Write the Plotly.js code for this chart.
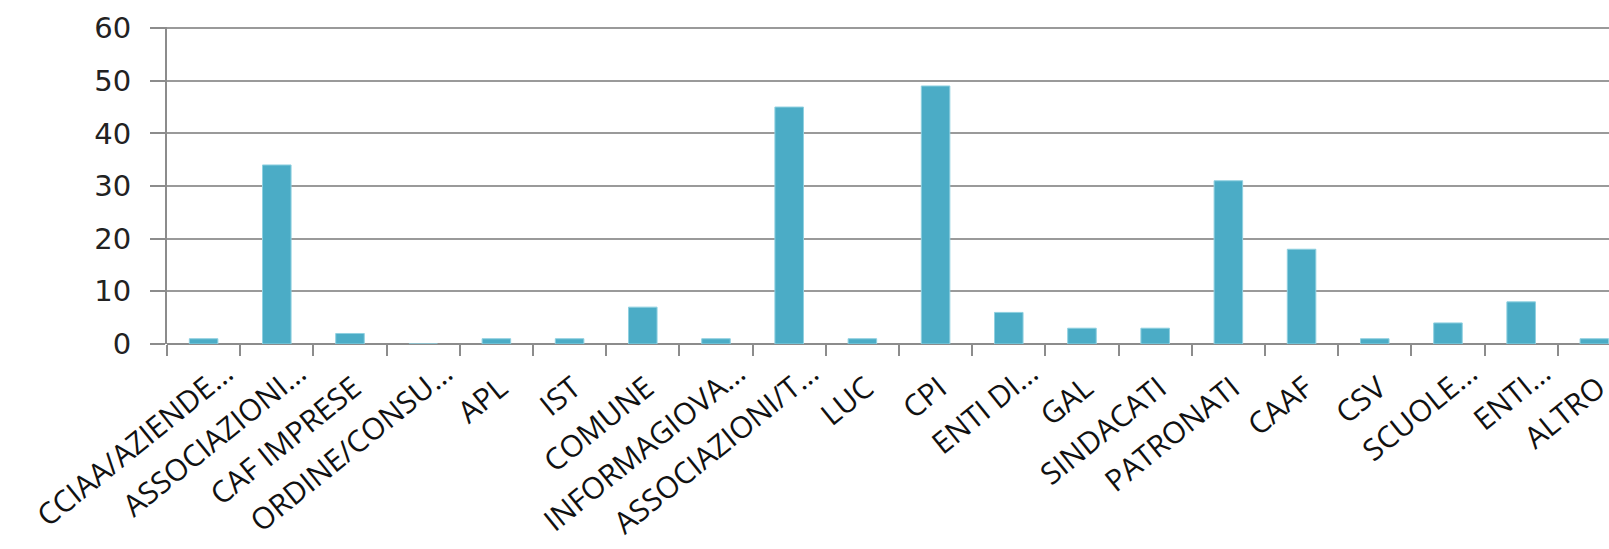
<!DOCTYPE html>
<html>
<head>
<meta charset="utf-8">
<script src="https://cdn.plot.ly/plotly-3.0.1.min.js"></script>
<style>
html,body{margin:0;padding:0;background:#fff;overflow:hidden;}
#chart{width:1609px;height:549px;}
</style>
</head>
<body>
<div id="chart"></div>
<script>
var categories = ["CCIAA/AZIENDE…", "ASSOCIAZIONI…", "CAF IMPRESE", "ORDINE/CONSU…", "APL", "IST", "COMUNE", "INFORMAGIOVA…", "ASSOCIAZIONI/T…", "LUC", "CPI", "ENTI DI…", "GAL", "SINDACATI", "PATRONATI", "CAAF", "CSV", "SCUOLE…", "ENTI…", "ALTRO"];
var values = [1, 34, 2, 0, 1, 1, 7, 1, 45, 1, 49, 6, 3, 3, 31, 18, 1, 4, 8, 1];
var yTicks = [0, 10, 20, 30, 40, 50, 60];

// Labels without a trailing ellipsis sit a little further down-left in the original
var tickLabels = categories.map(function (c) {
  return c.slice(-1) === '…' ? c : c + '\u00a0\u00a0\u00a0';
});

var trace = {
  type: 'bar',
  x: categories,
  y: values,
  marker: {color: '#4BACC6', line: {color: '#8fd0e0', width: 1}},
  hoverinfo: 'x+y'
};

var layout = {
  width: 1609,
  height: 549,
  margin: {l: 167, r: 0, t: 27, b: 205, pad: 0},
  paper_bgcolor: '#ffffff',
  plot_bgcolor: '#ffffff',
  bargap: 0.61,
  showlegend: false,
  xaxis: {
    type: 'category',
    range: [-0.5, 19.2],
    tickmode: 'array',
    tickvals: categories,
    ticktext: tickLabels,
    tickangle: -39,
    ticks: 'outside',
    tickson: 'boundaries',
    ticklen: 11,
    tickwidth: 2,
    tickcolor: '#8c8c8c',
    showline: false,
    showgrid: false,
    zeroline: false,
    ticklabelshift: 22,
    ticklabelstandoff: 5,
    tickfont: {family: 'Open Sans, sans-serif', size: 30, color: '#111111'},
    automargin: false
  },
  yaxis: {
    range: [0, 60.2],
    tickvals: yTicks,
    ticktext: yTicks.map(String),
    ticks: 'outside',
    ticklen: 15,
    tickwidth: 2,
    tickcolor: '#8c8c8c',
    showgrid: true,
    gridcolor: '#9a9a9a',
    gridwidth: 2,
    showline: true,
    linecolor: '#8c8c8c',
    linewidth: 2,
    zeroline: true,
    zerolinecolor: '#8c8c8c',
    zerolinewidth: 2,
    ticklabelstandoff: 13,
    tickfont: {family: 'DejaVu Sans, Verdana, sans-serif', size: 29, color: '#222222'},
    automargin: false
  }
};

Plotly.newPlot('chart', [trace], layout, {displayModeBar: false, staticPlot: true});
</script>
</body>
</html>
